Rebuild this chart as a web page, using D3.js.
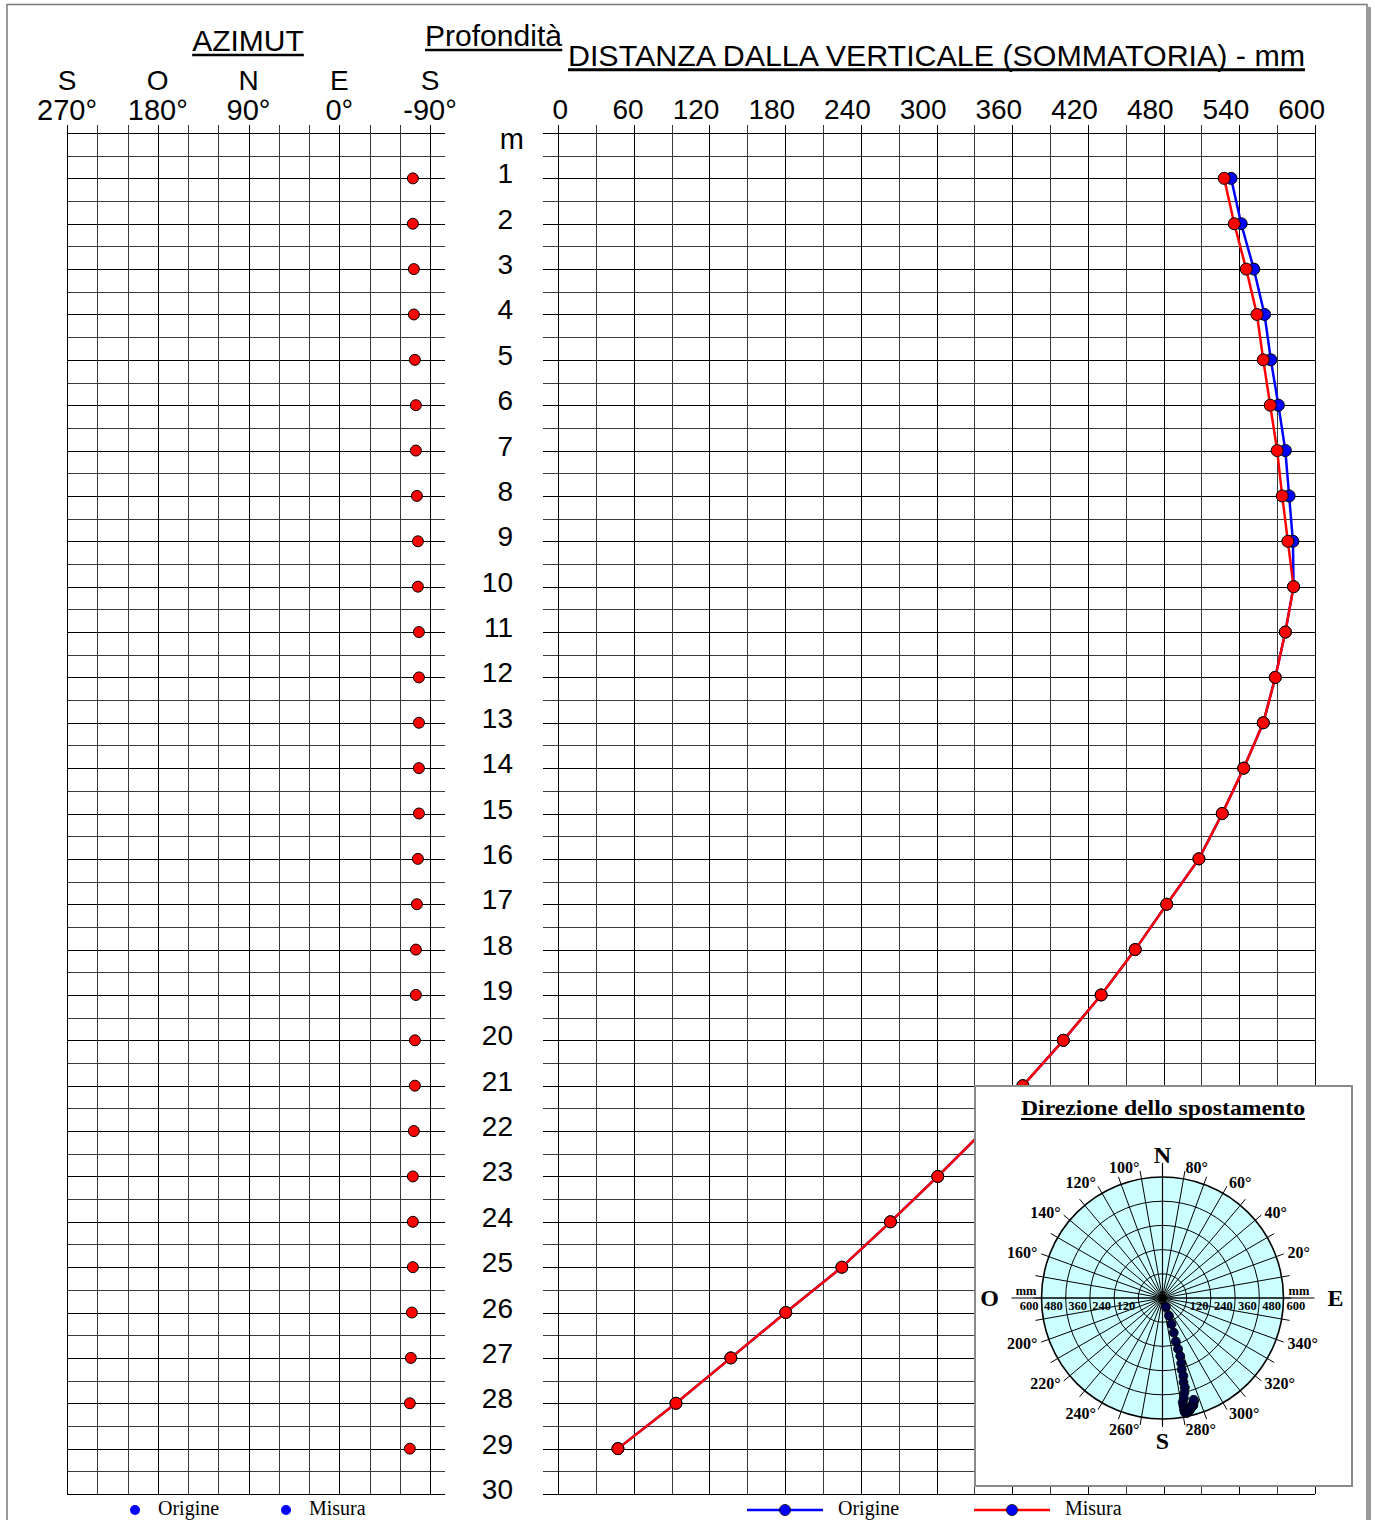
<!DOCTYPE html>
<html>
<head>
<meta charset="utf-8">
<script src="https://cdn.jsdelivr.net/npm/d3@7"></script>
<style>
  body { margin: 0; background: #fff; }
  svg { display: block; }
</style>
</head>
<body>
<svg width="1375" height="1520"></svg>
<script>
// depth of each reading (m)
var depths = [1, 2, 3, 4, 5, 6, 7, 8, 9, 10, 11, 12, 13, 14, 15, 16, 17, 18, 19, 20, 21, 22, 23, 24, 25, 26, 27, 28, 29];

// cumulative distance from vertical (mm)
var misura = [528, 536, 545.5, 554, 559, 564.5, 570, 574, 578.5, 583, 576.5, 568.5, 559, 543.5, 526.5, 508, 482.5, 457.5, 430.5, 400.5, 368.5, 337, 301, 263.5, 225, 180.5, 137, 93.5, 47.5];
var origine = [533.5, 541.5, 551.5, 560, 565, 571, 576.5, 579.5, 582.5, 583, 576.5, 568.5, 559, 543.5, 526.5, 508, 482.5, 457.5, 430.5, 400.5, 368.5, 337, 301, 263.5, 225, 180.5, 137, 93.5, 47.5];

// azimuth of displacement (deg)
var azimut = [-73, -73, -74, -74, -75, -76, -76, -77, -78, -78, -79, -79, -79, -79, -79, -78, -77, -76, -76, -75, -75, -74, -73, -73, -73, -72, -71, -70, -70];

var distTicks = [0, 60, 120, 180, 240, 300, 360, 420, 480, 540, 600];
var azTicks = [270, 180, 90, 0, -90];
var azLetters = ["S", "O", "N", "E", "S"];
var polarRings = [120, 240, 360, 480, 600];
var polarDegLabels = [20, 40, 60, 80, 100, 120, 140, 160, 200, 220, 240, 260, 280, 300, 320, 340];
var compass = [{t: "E", a: 0}, {t: "N", a: 90}, {t: "O", a: 180}, {t: "S", a: 270}];

var sans = "'Liberation Sans', Arial, sans-serif";
var serif = "'Liberation Serif', 'Times New Roman', serif";

var svg = d3.select("svg");

// outer frame
svg.append("rect")
  .attr("x", 1368).attr("y", 7).attr("width", 3).attr("height", 1520)
  .attr("fill", "#9a9a9a");
svg.append("rect")
  .attr("x", 7).attr("y", 4.5).attr("width", 1360).attr("height", 1530)
  .attr("fill", "none").attr("stroke", "#7a7a7a").attr("stroke-width", 1.5);

var yScale = d3.scaleLinear().domain([0, 30]).range([133, 1494]);
var halfSteps = d3.range(0, 30.001, 0.5);

function cleanAxis(g, major) {
  g.select(".domain").remove();
  g.selectAll("text").remove();
  g.attr("shape-rendering", "crispEdges");
  g.selectAll(".tick line")
    .attr("stroke", function(d) { return major(d) ? "#000" : "#3a3a3a"; })
    .attr("stroke-width", 1);
}

// text with a heavy underline drawn under it
function underlined(x, y, anchor, size, family, weight, str, len, thick) {
  var t = svg.append("text")
    .attr("x", x).attr("y", y)
    .attr("text-anchor", anchor)
    .style("font-family", family).style("font-size", size + "px")
    .style("font-weight", weight)
    .text(str);
  if (len) t.attr("textLength", len).attr("lengthAdjust", "spacingAndGlyphs");
  var b = t.node().getBBox();
  svg.append("line")
    .attr("x1", b.x).attr("x2", b.x + b.width)
    .attr("y1", y + size * 0.13).attr("y2", y + size * 0.13)
    .attr("stroke", "#000").attr("stroke-width", thick);
  return t;
}

// ---------------- AZIMUT chart ----------------
var azScale = d3.scaleLinear().domain([270, -90]).range([67, 430]);

svg.append("g")
  .attr("transform", "translate(" + 67 + ",0)")
  .call(d3.axisLeft(yScale).tickValues(halfSteps).tickSize(-(445 - 67)))
  .call(cleanAxis, function(d) { return d % 1 === 0; });

svg.append("g")
  .attr("transform", "translate(0," + 125 + ")")
  .call(d3.axisTop(azScale).tickValues(d3.range(270, -90.001, -30)).tickSize(-(1494 - 125)))
  .call(cleanAxis, function(d) { return d % 90 === 0; });

underlined(248, 51, "middle", 30, sans, "normal", "AZIMUT", null, 2.5);

svg.append("g").selectAll("text")
  .data(azTicks)
  .enter().append("text")
  .attr("x", function(d) { return azScale(d); })
  .attr("y", 90)
  .attr("text-anchor", "middle")
  .style("font-family", sans).style("font-size", "28px")
  .text(function(d, i) { return azLetters[i]; });

svg.append("g").selectAll("text")
  .data(azTicks)
  .enter().append("text")
  .attr("x", function(d) { return azScale(d); })
  .attr("y", 120)
  .attr("text-anchor", "middle")
  .style("font-family", sans).style("font-size", "29px")
  .text(function(d) { return d + "°"; });

svg.append("g").selectAll("circle")
  .data(depths)
  .enter().append("circle")
  .attr("cx", function(d, i) { return azScale(azimut[i]); })
  .attr("cy", function(d) { return yScale(d); })
  .attr("r", 5.5)
  .attr("fill", "#ff0000")
  .attr("stroke", "#000").attr("stroke-width", 1);

// ---------------- depth labels ----------------
underlined(562, 46, "end", 30, sans, "normal", "Profondità", 137, 2.5);

svg.append("text")
  .attr("x", 524).attr("y", 149)
  .attr("text-anchor", "end")
  .style("font-family", sans).style("font-size", "29px")
  .text("m");

svg.append("g").selectAll("text")
  .data(d3.range(1, 31))
  .enter().append("text")
  .attr("x", 513)
  .attr("y", function(d) { return yScale(d) + 5; })
  .attr("text-anchor", "end")
  .style("font-family", sans).style("font-size", "28px")
  .text(function(d) { return d; });

// ---------------- distance chart ----------------
var xScale = d3.scaleLinear().domain([0, 600]).range([558, 1315]);

svg.append("g")
  .attr("transform", "translate(" + 543 + ",0)")
  .call(d3.axisLeft(yScale).tickValues(halfSteps).tickSize(-(1315 - 543)))
  .call(cleanAxis, function(d) { return d % 1 === 0; });

svg.append("g")
  .attr("transform", "translate(0," + 125 + ")")
  .call(d3.axisTop(xScale).tickValues(d3.range(0, 600.001, 30)).tickSize(-(1494 - 125)))
  .call(cleanAxis, function(d) { return d % 60 === 0; });

underlined(568, 66, "start", 29, sans, "normal", "DISTANZA DALLA VERTICALE (SOMMATORIA) - mm", 737, 3);

svg.append("g").selectAll("text")
  .data(distTicks)
  .enter().append("text")
  .attr("x", function(d) { return xScale(d) + 10; })
  .attr("y", 119)
  .attr("text-anchor", "end")
  .style("font-family", sans).style("font-size", "28px")
  .text(function(d) { return d; });

var line = d3.line()
  .x(function(d) { return xScale(d.v); })
  .y(function(d) { return yScale(d.d); });

function series(values, color) {
  var pts = depths.map(function(d, i) { return {d: d, v: values[i]}; });
  svg.append("path")
    .datum(pts)
    .attr("fill", "none")
    .attr("stroke", color)
    .attr("stroke-width", 2.5)
    .attr("d", line);
  svg.append("g").selectAll("circle")
    .data(pts)
    .enter().append("circle")
    .attr("cx", function(p) { return xScale(p.v); })
    .attr("cy", function(p) { return yScale(p.d); })
    .attr("r", 6)
    .attr("fill", color)
    .attr("stroke", "#000").attr("stroke-width", 1);
}
series(origine, "#0000ff");
series(misura, "#ff0000");

// ---------------- polar inset ----------------
var inset = svg.append("g");
inset.append("rect")
  .attr("x", 975).attr("y", 1086).attr("width", 377).attr("height", 400)
  .attr("fill", "#fff")
  .attr("stroke", "#8a8a8a").attr("stroke-width", 2);

var title = inset.append("text")
  .attr("x", 1163).attr("y", 1115)
  .attr("text-anchor", "middle")
  .attr("textLength", 284).attr("lengthAdjust", "spacingAndGlyphs")
  .style("font-family", serif).style("font-size", "21px").style("font-weight", "bold")
  .text("Direzione dello spostamento");
inset.append("line")
  .attr("x1", 1163 - 142).attr("x2", 1163 + 142)
  .attr("y1", 1119).attr("y2", 1119)
  .attr("stroke", "#000").attr("stroke-width", 2);

var cx = 1162.5, cy = 1298, R = 121;
var rScale = d3.scaleLinear().domain([0, 600]).range([0, R]);
function px(r, a) { return cx + r * Math.cos(a * Math.PI / 180); }
function py(r, a) { return cy - r * Math.sin(a * Math.PI / 180); }

inset.append("circle")
  .attr("cx", cx).attr("cy", cy).attr("r", R)
  .attr("fill", "#ccffff");

inset.append("g").selectAll("circle")
  .data(polarRings)
  .enter().append("circle")
  .attr("cx", cx).attr("cy", cy)
  .attr("r", function(d) { return rScale(d); })
  .attr("fill", "none")
  .attr("stroke", "#000")
  .attr("stroke-width", function(d) { return d === 600 ? 1.6 : 1; });

inset.append("g").selectAll("line")
  .data(d3.range(0, 360, 10))
  .enter().append("line")
  .attr("x1", cx).attr("y1", cy)
  .attr("x2", function(a) { return px(R + 8, a); })
  .attr("y2", function(a) { return py(R + 8, a); })
  .attr("stroke", "#000").attr("stroke-width", 1);

// E-O and N-S axes
inset.append("line")
  .attr("x1", cx - 151).attr("x2", cx + 152)
  .attr("y1", cy).attr("y2", cy)
  .attr("stroke", "#000").attr("stroke-width", 1.2);
inset.append("line")
  .attr("x1", cx).attr("x2", cx)
  .attr("y1", cy - R - 14).attr("y2", cy + R + 6)
  .attr("stroke", "#000").attr("stroke-width", 1.2);

inset.append("g").selectAll("text")
  .data(polarDegLabels)
  .enter().append("text")
  .attr("x", function(a) { return px(R + 12, a); })
  .attr("y", function(a) { return py(R + 12, a); })
  .attr("dy", "0.35em")
  .attr("text-anchor", function(a) { return (a < 90 || a > 270) ? "start" : "end"; })
  .style("font-family", serif).style("font-size", "16px").style("font-weight", "bold")
  .text(function(a) { return a + "°"; });

inset.append("g").selectAll("text")
  .data(compass)
  .enter().append("text")
  .attr("x", function(c) { return px(c.a % 180 === 0 ? 173 : 143, c.a); })
  .attr("y", function(c) { return py(c.a % 180 === 0 ? 173 : 143, c.a); })
  .attr("dy", "0.35em")
  .attr("text-anchor", "middle")
  .style("font-family", serif).style("font-size", "24px").style("font-weight", "bold")
  .text(function(c) { return c.t; });

// mm scale along the E-O axis
[-1, 1].forEach(function(side) {
  var g = inset.append("g")
    .style("font-family", serif).style("font-size", "12.5px").style("font-weight", "bold")
    .attr("text-anchor", side < 0 ? "end" : "start");
  g.selectAll("text.v")
    .data(polarRings)
    .enter().append("text")
    .attr("class", "v")
    .attr("x", function(d) { return cx + side * (rScale(d) + 3); })
    .attr("y", cy + 12)
    .text(function(d) { return d; });
  g.append("text")
    .attr("x", cx + side * (R + 5))
    .attr("y", cy - 3)
    .text("mm");
});

inset.append("g").selectAll("circle")
  .data(depths.slice().reverse())
  .enter().append("circle")
  .attr("cx", function(d) { return px(rScale(misura[d - 1]), azimut[d - 1]); })
  .attr("cy", function(d) { return py(rScale(misura[d - 1]), azimut[d - 1]); })
  .attr("r", 4.5)
  .attr("fill", "#000046")
  .attr("stroke", "#000").attr("stroke-width", 0.8);

// ---------------- legends ----------------
var legLeft = [{t: "Origine", x: 135}, {t: "Misura", x: 286}];
legLeft.forEach(function(l) {
  svg.append("circle")
    .attr("cx", l.x).attr("cy", 1510).attr("r", 5)
    .attr("fill", "#0000ff");
  svg.append("text")
    .attr("x", l.x + 23).attr("y", 1515)
    .style("font-family", serif).style("font-size", "20px")
    .text(l.t);
});

var legRight = [{t: "Origine", x: 747, c: "#0000ff"}, {t: "Misura", x: 974, c: "#ff0000"}];
legRight.forEach(function(l) {
  svg.append("line")
    .attr("x1", l.x).attr("x2", l.x + 76)
    .attr("y1", 1510).attr("y2", 1510)
    .attr("stroke", l.c).attr("stroke-width", 2.5);
  svg.append("circle")
    .attr("cx", l.x + 38).attr("cy", 1510).attr("r", 5.5)
    .attr("fill", "#0000ff").attr("stroke", "#000").attr("stroke-width", 0.8);
  svg.append("text")
    .attr("x", l.x + 91).attr("y", 1515)
    .style("font-family", serif).style("font-size", "20px")
    .text(l.t);
});
</script>
</body>
</html>
